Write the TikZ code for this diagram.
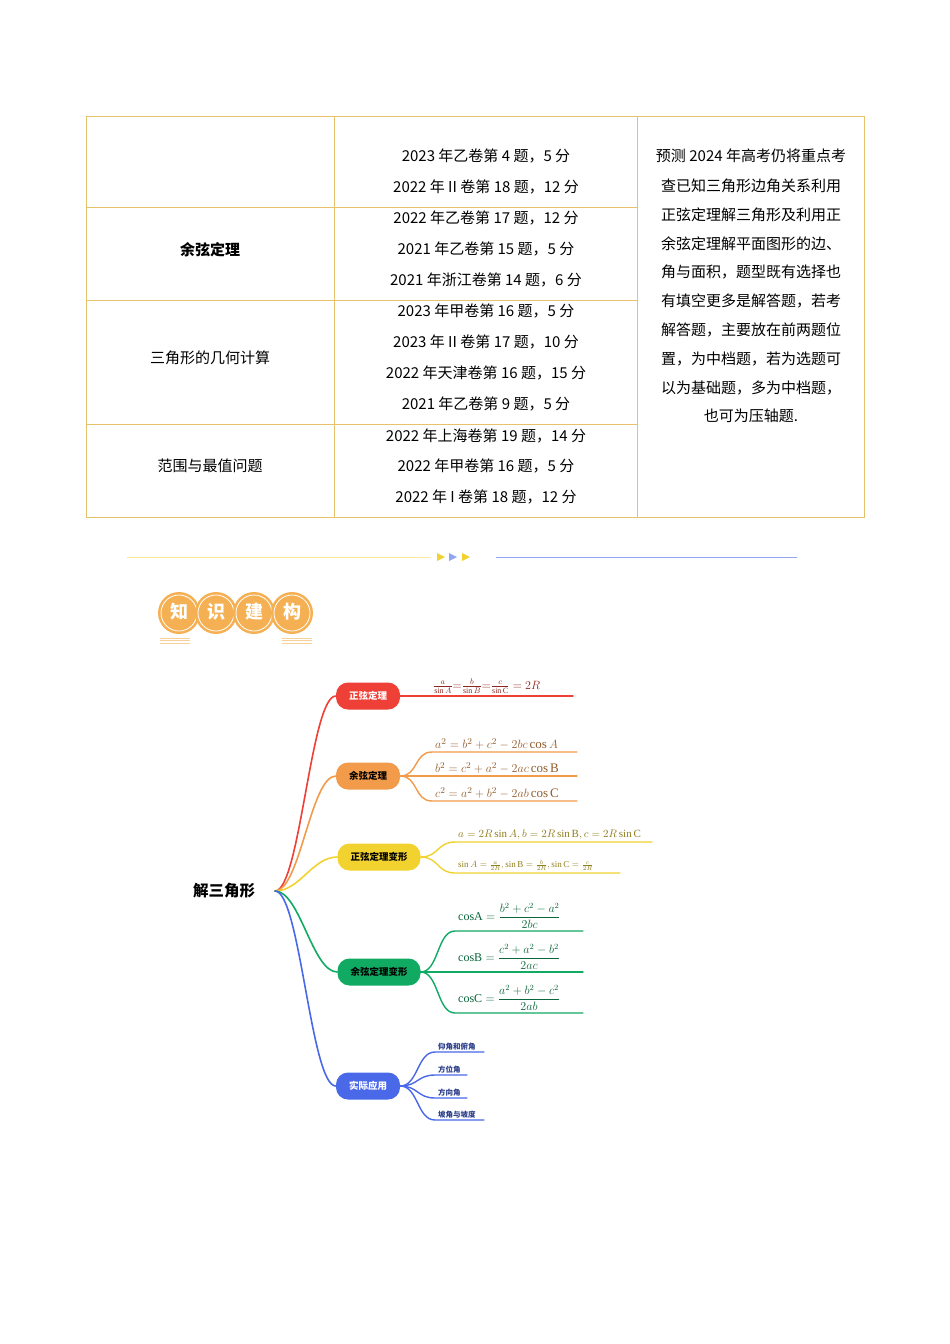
\documentclass[tikz,border=0pt]{standalone}
\usepackage{fontspec}
\usepackage{amsmath}
\usetikzlibrary{calc}
\setmainfont{Liberation Serif}
\newfontfamily\cjk{Noto Sans CJK SC}
\definecolor{gold}{HTML}{E6C36A}
\definecolor{cred}{HTML}{EE4036}
\definecolor{cora}{HTML}{F29B4A}
\definecolor{cyel}{HTML}{F2D22E}
\definecolor{cgre}{HTML}{10AA63}
\definecolor{cblu}{HTML}{4A69E8}
\definecolor{badge}{HTML}{F4B052}
\begin{document}
\begin{tikzpicture}[x=1pt,y=-1pt,
  cell/.style={font=\cjk\fontsize{15}{18}\selectfont},
  pill/.style={rounded corners=12pt,minimum height=27pt,inner xsep=13pt,font=\cjk\bfseries\fontsize{9.5}{11}\selectfont},
  br/.style={line width=1.6pt,line cap=round},
  lf/.style={font=\fontsize{13}{15}\selectfont,anchor=south west,inner sep=1pt}]
\useasboundingbox (0,0) rectangle (950,1344);
\fill[white] (0,0) rectangle (950,1344);
% table
\draw[gold,line width=1pt] (86,116) rectangle (864,517);
\draw[gold,line width=1pt] (334,116) -- (334,517) (637,116) -- (637,517);
\foreach \y in {207,300,424} \draw[gold,line width=1pt] (86,\y) -- (637,\y);
\node[cell,font=\cjk\bfseries\fontsize{15}{18}\selectfont] (l1) at (210,250) {余弦定理};
\node[cell] (l2) at (210,358) {三角形的几何计算};
\node[cell] (l3) at (210,466) {范围与最值问题};
\foreach \t/\y in {2023 年乙卷第 4 题，5 分/156,2022 年 II 卷第 18 题，12 分/187,2022 年乙卷第 17 题，12 分/218,2021 年乙卷第 15 题，5 分/249,2021 年浙江卷第 14 题，6 分/280,2023 年甲卷第 16 题，5 分/311,2023 年 II 卷第 17 题，10 分/342,2022 年天津卷第 16 题，15 分/373,2021 年乙卷第 9 题，5 分/404,2022 年上海卷第 19 题，14 分/436,2022 年甲卷第 16 题，5 分/466,2022 年 I 卷第 18 题，12 分/497}
  \node[cell] at (486,\y) {\t};
\foreach \t/\y in {预测 2024 年高考仍将重点考/156,查已知三角形边角关系利用/186,正弦定理解三角形及利用正/215,余弦定理解平面图形的边、/244,角与面积，题型既有选择也/272,有填空更多是解答题，若考/301,解答题，主要放在前两题位/330,置，为中档题，若为选题可/359,以为基础题，多为中档题，/388,也可为压轴题./416}
  \node[cell] at (751,\y) {\t};
% divider
\draw[yellow!60!orange!40,line width=0.8pt] (127,557) -- (430,557);
\draw[cblu!60,line width=0.8pt] (496,557) -- (797,557);
\fill[cyel] (437,553) -- (445,557) -- (437,561) -- cycle;
\fill[cblu!60] (449,553) -- (457,557) -- (449,561) -- cycle;
\fill[cyel] (462,553) -- (470,557) -- (462,561) -- cycle;
% badge
\foreach \c/\x in {知/179,识/216,建/254,构/292}{
  \fill[badge] (\x,613) circle (21);
  \draw[white,line width=0.8pt] (\x,613) circle (18);
  \node[text=white,font=\cjk\bfseries\fontsize{18}{19}\selectfont] at (\x,612) {\c};}
\foreach \y in {638,640.5,643}{\draw[badge!60,line width=0.7pt] (160,\y) -- (190,\y) (282,\y) -- (312,\y);}
% mindmap
\node[font=\cjk\bfseries\fontsize{15.5}{17}\selectfont] (root) at (224,891) {解三角形};
\coordinate (o) at (275,891);
\node[pill,fill=cred,text=white] (n1) at (368,696) {正弦定理};
\node[pill,fill=cora] (n2) at (368,776) {余弦定理};
\node[pill,fill=cyel] (n3) at (379,857) {正弦定理变形};
\node[pill,fill=cgre] (n4) at (379,972) {余弦定理变形};
\node[pill,fill=cblu,text=white] (n5) at (368,1086) {实际应用};
\foreach \n/\c in {n1/cred,n2/cora,n3/cyel,n4/cgre,n5/cblu}
  \draw[br,\c] (o) .. controls (300,891) and ($(\n.west)+(-25,0)$) .. (\n.west);
% leaves
\newcommand\leaf[6]{% node, color, x0, y, xend, text
  \coordinate (s) at (#3,#4);
  \draw[br,#2,line width=1.4pt] (#1.east) .. controls ++(18,0) and ($(s)+(-18,0)$) .. (s) -- (#5,#4);
  \node[lf,text=#2!60!black] at (#3+2,#4-1) {#6};}
\leaf{n1}{cred}{430}{696}{573}{\fontsize{12}{13}\selectfont$\frac{a}{\sin A}{=}\frac{b}{\sin B}{=}\frac{c}{\sin\mathrm{C}}=2R$}
\leaf{n2}{cora}{432}{752}{577}{$a^2=b^2+c^2-2bc\cos A$}
\leaf{n2}{cora}{432}{776}{577}{$b^2=c^2+a^2-2ac\cos\mathrm{B}$}
\leaf{n2}{cora}{432}{801}{577}{$c^2=a^2+b^2-2ab\cos\mathrm{C}$}
\leaf{n3}{cyel}{455}{842}{652}{\fontsize{11}{12}\selectfont$a=2R\sin A,b=2R\sin\mathrm{B},c=2R\sin\mathrm{C}$}
\leaf{n3}{cyel}{455}{873}{620}{\fontsize{9}{10}\selectfont$\sin A=\frac{a}{2R},\sin\mathrm{B}=\frac{b}{2R},\sin\mathrm{C}=\frac{c}{2R}$}
\leaf{n4}{cgre}{455}{931}{583}{\fontsize{12}{13}\selectfont$\mathrm{cosA}=\dfrac{b^2+c^2-a^2}{2bc}$}
\leaf{n4}{cgre}{455}{972}{583}{\fontsize{12}{13}\selectfont$\mathrm{cosB}=\dfrac{c^2+a^2-b^2}{2ac}$}
\leaf{n4}{cgre}{455}{1013}{583}{\fontsize{12}{13}\selectfont$\mathrm{cosC}=\dfrac{a^2+b^2-c^2}{2ab}$}
\leaf{n5}{cblu}{435}{1052}{484}{\cjk\bfseries\fontsize{7.5}{8}\selectfont 仰角和俯角}
\leaf{n5}{cblu}{435}{1075}{467}{\cjk\bfseries\fontsize{7.5}{8}\selectfont 方位角}
\leaf{n5}{cblu}{435}{1098}{467}{\cjk\bfseries\fontsize{7.5}{8}\selectfont 方向角}
\leaf{n5}{cblu}{435}{1120}{484}{\cjk\bfseries\fontsize{7.5}{8}\selectfont 坡角与坡度}
\end{tikzpicture}
\end{document}
